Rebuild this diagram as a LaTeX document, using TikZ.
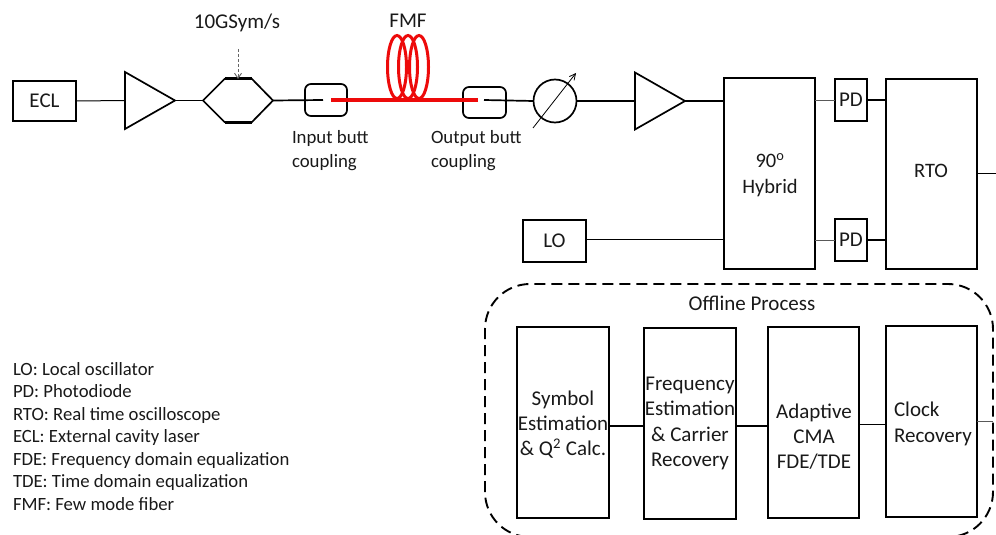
\documentclass[tikz,border=0pt]{standalone}
\usepackage{fontspec}
\setmainfont{Carlito}
\usetikzlibrary{shapes.geometric,arrows.meta}
\definecolor{fibred}{RGB}{237,10,10}
\tikzset{
  x=1pt,y=-1pt,
  every node/.style={outer sep=0pt,inner sep=0pt},
  bx/.style={draw=black,line width=1.9pt,minimum width=#1},
  bx/.default=91pt,
  thick line/.style={draw=black,line width=1.7pt},
  thin line/.style={draw=black,line width=1pt},
  grey line/.style={draw=black!65,line width=1pt},
  txt/.style={font=\fontsize{21}{25.3}\selectfont,align=center,text=black!90},
  hybtxt/.style={font=\fontsize{20.5}{25.5}\selectfont,align=center,text=black!90},
  boxtxt/.style={font=\fontsize{21}{25}\selectfont,text=black!90},
  small/.style={font=\fontsize{18.8}{24}\selectfont,align=left,text=black!90},
  legend/.style={font=\fontsize{18.7}{22.5}\selectfont,align=left,anchor=north west,text=black!90},
  shape box/.style={minimum width=#1,draw=none},
  fib/.style={draw=fibred,line width=3.6pt},
  coil/.style={draw=fibred,line width=3pt,ellipse,minimum width=19pt,minimum height=63pt},
}
\begin{document}
\begin{tikzpicture}
\useasboundingbox (0,0) rectangle (996,535);
% top row shapes
\node[bx=63pt,minimum height=40pt,boxtxt] (ecl) at (44.5,101) {ECL};
\node[shape box=50pt,minimum height=57pt] (ampa) at (150,100.5) {};
\draw[thick line,line join=miter] (ampa.north west) -- (ampa.east) -- (ampa.south west) -- cycle;
\node[shape box=70pt,minimum height=43pt] (hex) at (238,100.5) {};
\coordinate (hexa) at (224.5,79);
\coordinate (hexb) at (252,79);
\coordinate (hexc) at (252,122);
\coordinate (hexd) at (224.5,122);
\draw[thick line] (hex.west) -- (hexa) -- (hexb) -- (hex.east) -- (hexc) -- (hexd) -- cycle;
\draw[line width=3pt] (hexa) -- (hexb) (hexc) -- (hexd);
\node[draw=black,line width=1.7pt,rounded corners=6pt,minimum width=42pt,minimum height=32pt] (inb) at (326,100) {};
\node[draw=black,line width=1.7pt,rounded corners=6pt,minimum width=43pt,minimum height=31pt] (outb) at (484.5,102.5) {};
\node[coil] (coila) at (397,67) {};
\node[coil] (coilb) at (408,67) {};
\node[coil] (coilc) at (419,67) {};
\node[circle,draw=black,line width=1.7pt,minimum size=43pt] (voa) at (555,101) {};
\coordinate (voaa) at (533,128);
\coordinate (voab) at (576,73);
\draw[line width=0.8pt,-{Straight Barb[length=6pt,width=6pt]}] (voaa) -- (voab);
\node[shape box=50pt,minimum height=57pt] (ampb) at (660,101) {};
\draw[thick line,line join=miter] (ampb.north west) -- (ampb.east) -- (ampb.south west) -- cycle;
\node[bx=91pt,minimum height=191pt] (hyb) at (769.5,173.5) {};
\node[hybtxt] (hybt) at (770,175) {90\textsuperscript{o}\\Hybrid};
\node[bx=32pt,minimum height=42pt,boxtxt] (pda) at (851,100) {PD};
\node[bx=32pt,minimum height=42pt,boxtxt] (pdb) at (851,240) {PD};
\node[bx=91pt,minimum height=190pt] (rto) at (931.5,174) {};
\node[hybtxt] (rtot) at (931,171) {RTO};
\node[bx=63pt,minimum height=42pt,boxtxt] (lo) at (554.5,241) {LO};
% connectors top
\coordinate (inl) at (323,100);
\coordinate (inr) at (331,100);
\coordinate (outl) at (478,100);
\coordinate (outr) at (484,100);
\coordinate (rtoout) at (996,173);
\draw[thin line] (ecl.east) -- (ampa.west);
\draw[thick line] (ampa.east) -- (hex.west);
\draw[thick line] (hex.east) -- (inl);
\draw[fib] (inr) -- (outl);
\draw[thick line] (outr) -- (voa.west);
\draw[thick line] (voa.east) -- (ampb.west);
\draw[thick line] (ampb.east) -- (hyb.west |- ampb.east);
\draw[grey line] (hyb.east |- pda.west) -- (pda.west);
\draw[grey line] (hyb.east |- pdb.west) -- (pdb.west);
\draw[thick line] (pda.east) -- (rto.west |- pda.east);
\draw[thick line] (pdb.east) -- (rto.west |- pdb.east);
\draw[thin line] (lo.east |- 0,239.5) -- (hyb.west |- 0,239.5);
\draw[thin line] (rto.east |- rtoout) -- (rtoout);
% modulator drive
\coordinate (rfin) at (238,49);
\draw[draw=black!60,line width=0.9pt,dash pattern=on 3pt off 2pt,-{Straight Barb[length=5pt,width=7pt]}] (rfin) -- (hexa -| rfin);
% top labels
\node[txt] (sym) at (237,23) {10GSym/s};
\node[txt] (fmf) at (408,20.5) {FMF};
\node[small,anchor=north west] (inl2) at (292,130) {Input butt\\coupling};
\node[small,anchor=north west] (outl2) at (431,130) {Output butt\\coupling};
% offline
\draw[draw=black,line width=1.9pt,dash pattern=on 11pt off 6pt,rounded corners=45pt] (485,537) rectangle (993,284);
\node[anchor=center,font=\fontsize{21}{25}\selectfont,text=black!90] (off) at (752,303.5) {Offline Process};
\node[bx=92pt,minimum height=191pt] (sa) at (563,422.5) {};
\node[bx=92pt,minimum height=191pt] (sb) at (690,423.5) {};
\node[bx=91pt,minimum height=191pt] (sc) at (813.5,422.5) {};
\node[bx=91pt,minimum height=191pt] (sd) at (931.5,421.5) {};
\node[txt] (sat) at (563,424.5) {Symbol\\Estimation\\\& Q\textsuperscript{2} Calc.};
\node[txt] (sbt) at (690,423.5) {Frequency\\Estimation\\\& Carrier\\Recovery};
\node[txt] (sct) at (814,436.5) {Adaptive\\CMA\\FDE/TDE};
\node[txt,align=left,anchor=west] (sdt) at (894,424) {Clock\\Recovery};
\coordinate (off out) at (993,421);
\draw[thick line] (sa.east |- 0,426) -- (sb.west |- 0,426);
\draw[thick line] (sb.east |- 0,426) -- (sc.west |- 0,426);
\draw[thin line] (sc.east |- 0,424) -- (sd.west |- 0,424);
\draw[grey line] (sd.east |- off out) -- (off out);
% legend
\node[legend] (leg) at (13,362.5) {LO: Local oscillator\\PD: Photodiode\\RTO: Real time oscilloscope\\ECL: External cavity laser\\FDE: Frequency domain equalization\\TDE: Time domain equalization\\FMF: Few mode fiber};
\end{tikzpicture}
\end{document}
